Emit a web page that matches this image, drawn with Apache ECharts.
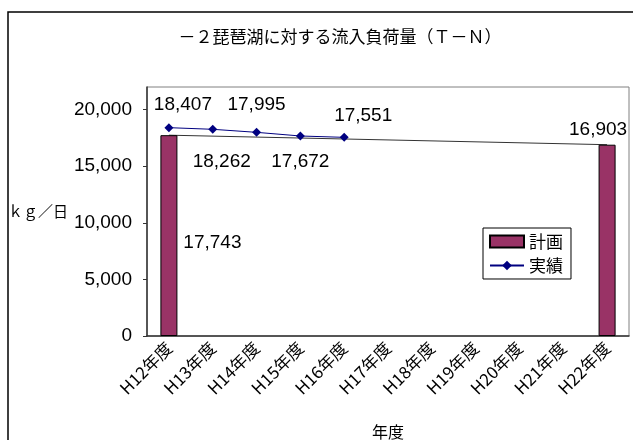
<!DOCTYPE html>
<html><head><meta charset="utf-8">
<script src="https://cdn.jsdelivr.net/npm/echarts@6/dist/echarts.min.js"></script>
<style>html,body{margin:0;padding:0;background:#fff}#c{width:633px;height:440px}</style>
</head><body><div id="c"></div>
<script>
const titleText = '－２琵琶湖に対する流入負荷量（Ｔ－Ｎ）';
const categories = ['H12年度','H13年度','H14年度','H15年度','H16年度','H17年度','H18年度','H19年度','H20年度','H21年度','H22年度'];
const planValues = [17743, null, null, null, null, null, null, null, null, null, 16903];
const actualValues = [18407, 18262, 17995, 17672, 17551, null, null, null, null, null, null];
const yTicks = [0, 5000, 10000, 15000, 20000];
const yMax = 22000;

const fmt = v => v.toLocaleString('en-US');
const numFont = 'Liberation Sans, Arial, sans-serif';
const jpFont = '"Noto Sans CJK JP", sans-serif';

// label placement for 実績 points
const actPos = [['top',[14,-4]],['bottom',[9,13]],['top',[0,-9]],['bottom',[0,7]],['top',[19,-3]]];
const actualData = actualValues.map((v,i)=> v==null ? null : {
  value: v,
  label: {show:true, position: actPos[i][0], offset: actPos[i][1]}
});
const planData = planValues.map((v,i)=> v==null ? null : {
  value: v,
  label: i===0 ? {show:true, position:[52,108], align:'center', verticalAlign:'middle'}
               : {show:true, position:'top', offset:[-9,0]}
});

const chart = echarts.init(document.getElementById('c'));
chart.setOption({
  animation:false,
  title:{text:titleText, left:335, top:23, textAlign:'center',
    textStyle:{fontFamily:jpFont, fontSize:17, fontWeight:'normal', color:'#000'}},
  graphic:[{type:'rect', shape:{x:8,y:12,width:700,height:500}, style:{fill:'none', stroke:'#000', lineWidth:1.5}, silent:true}],
  legend:{
    left:483, top:228, orient:'vertical', itemGap:7, itemWidth:34, itemHeight:12,
    padding:[5,8,5,6], borderColor:'#000', borderWidth:1,
    textStyle:{fontFamily:jpFont, fontSize:17, color:'#000'},
    data:[{name:'計画', icon:'rect'}, {name:'実績'}]
  },
  grid:{left:147, right:4, top:87, bottom:104, show:true, borderColor:'#808080', borderWidth:1,
    containLabel:false, outerBoundsMode:'none'},
  xAxis:{
    type:'category', data:categories, boundaryGap:true,
    name:'年度', nameLocation:'middle', nameGap:88,
    nameTextStyle:{fontFamily:jpFont, fontSize:16, color:'#000'},
    axisLine:{lineStyle:{color:'#333', width:1.5}},
    axisTick:{inside:true, length:5, lineStyle:{color:'#333'}},
    axisLabel:{rotate:45, margin:9, fontFamily:jpFont, fontSize:17, color:'#000', interval:0}
  },
  yAxis:{
    type:'value', min:0, max:yMax, interval:5000,
    name:'ｋｇ／日', nameLocation:'middle', nameGap:74, nameRotate:0,
    nameTextStyle:{fontFamily:jpFont, fontSize:15, color:'#000', padding:[4,0,0,0]},
    axisLine:{show:true, lineStyle:{color:'#333', width:1.5}},
    axisTick:{show:true, length:4, lineStyle:{color:'#333'}, customValues: yTicks},
    splitLine:{show:false},
    axisLabel:{margin:15, fontFamily:numFont, fontSize:19, color:'#000',
      customValues: yTicks, formatter: v => fmt(v)}
  },
  series:[
    {name:'計画線', type:'line', data:planValues, connectNulls:true, symbol:'none',
      lineStyle:{color:'#333', width:1}, z:1, silent:true},
    {name:'計画', type:'bar', data:planData, barWidth:17,
      itemStyle:{color:'#993366', borderColor:'#000', borderWidth:1}, z:3,
      label:{fontFamily:numFont, fontSize:19, color:'#000', formatter:p=>fmt(p.value)}},
    {name:'実績', type:'line', data:actualData, symbol:'diamond', symbolSize:9,
      lineStyle:{color:'#000080', width:1}, itemStyle:{color:'#000080'}, z:4,
      label:{fontFamily:numFont, fontSize:19, color:'#000', formatter:p=>fmt(p.value)}}
  ]
});
</script></body></html>
